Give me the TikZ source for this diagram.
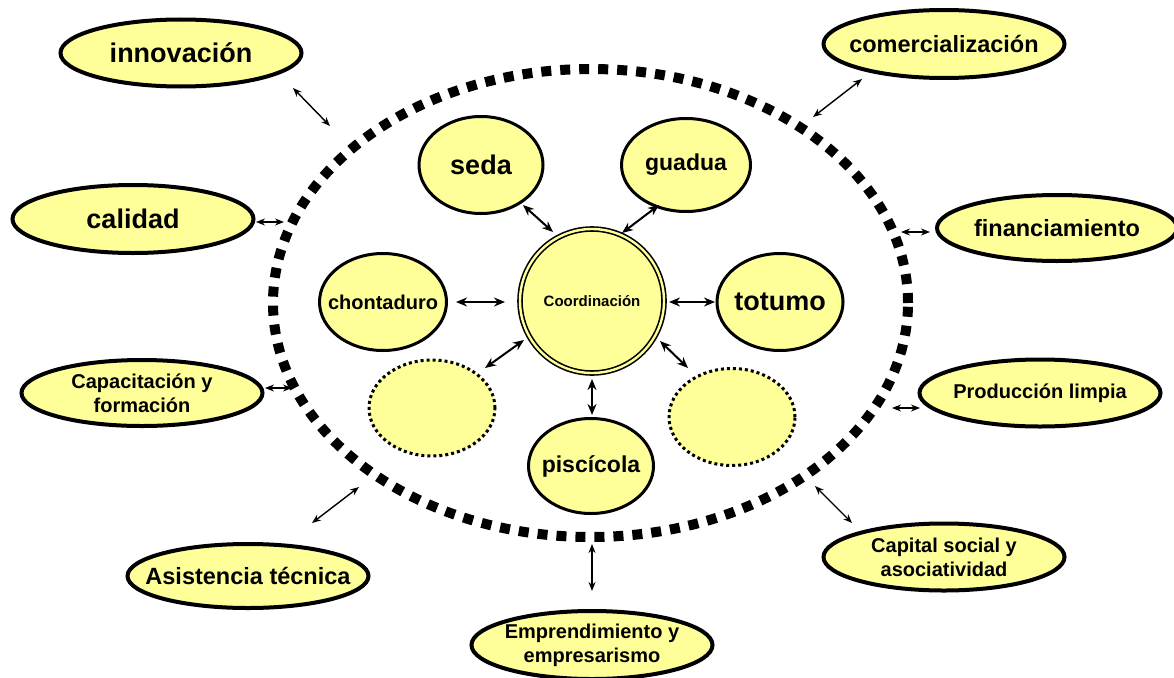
\documentclass[tikz,border=0pt]{standalone}
\usepackage{fontspec}
\setmainfont{Liberation Sans}
\usetikzlibrary{shapes.geometric,arrows.meta}
\definecolor{fillY}{HTML}{FFFF99}
\begin{document}
\begin{tikzpicture}[x=1pt,y=-1pt,
  outerbox/.style={ellipse,draw=black,line width=4pt,fill=fillY,inner sep=-30pt,
    minimum width=241pt,minimum height=67pt,align=center},
  innerbox/.style={ellipse,draw=black,line width=3pt,fill=fillY,inner sep=-30pt,align=center},
  dotbox/.style={ellipse,draw=black,line width=3pt,dash pattern=on 3pt off 3pt,fill=fillY,inner sep=0pt},
  fbig/.style={font=\fontsize{27}{30}\selectfont\bfseries},
  fmid/.style={font=\fontsize{23.5}{27}\selectfont\bfseries},
  fsmall/.style={font=\fontsize{20}{24}\selectfont\bfseries},
  thinarr/.style={line width=1.4pt,{Stealth[length=9pt,width=7pt]}-{Stealth[length=9pt,width=7pt]}},
  thickarr/.style={line width=2pt,{Stealth[length=11pt,width=9pt]}-{Stealth[length=11pt,width=9pt]}},
]
\useasboundingbox (0,0) rectangle (1174,677);

% dashed ring
\node[ellipse,draw=black,line width=10pt,dash pattern=on 10pt off 9pt,
  minimum width=635pt,minimum height=468pt,inner sep=0pt] (ring) at (590.5,303) {};

% outer nodes
\node[outerbox,fbig] (innov) at (181,53) {innovación};
\node[outerbox,fbig,minimum height=68pt] (calidad) at (133,219) {calidad};
\node[outerbox,fmid,minimum height=68pt] (comerc) at (944,44) {comercialización};
\node[outerbox,fmid,minimum width=240pt,minimum height=66pt] (financ) at (1057,228) {financiamiento};
\node[outerbox,fsmall] (prod) at (1040,393) {Producción limpia};
\node[outerbox,fsmall] (capital) at (944,557) {Capital social y\\asociatividad};
\node[outerbox,fsmall,minimum height=66pt] (capac) at (142,393) {Capacitación y\\formación};
\node[outerbox,fmid,minimum height=64pt] (asist) at (248,576) {Asistencia técnica};
\node[outerbox,fsmall,minimum height=68pt] (empr) at (592,645) {Emprendimiento y\\empresarismo};

% inner nodes
\node[innerbox,fbig,minimum width=124pt,minimum height=97pt] (seda) at (481,165) {seda};
\node[innerbox,font=\fontsize{23}{27}\selectfont\bfseries,minimum width=129pt,minimum height=93pt] (guadua) at (686,165) {guadua};
\node[innerbox,fsmall,minimum width=127pt,minimum height=97pt] (chont) at (383,302) {chontaduro};
\node[innerbox,fbig,minimum width=126pt,minimum height=97pt] (totumo) at (780,302) {totumo};
\node[dotbox,minimum width=126pt,minimum height=96pt] (dotL) at (432,408) {};
\node[dotbox,minimum width=126pt,minimum height=97pt] (dotR) at (732,417) {};
\node[innerbox,font=\fontsize{23}{27}\selectfont\bfseries,minimum width=125pt,minimum height=95pt] (pisc) at (591,466) {piscícola};
\node[circle,draw=black,line width=1.6pt,double=fillY,double distance=2.4pt,fill=fillY,
  minimum size=144pt,inner sep=0pt,font=\fontsize{15}{18}\selectfont\bfseries] (coord) at (592,301) {Coordinación};

% arrow end points
\coordinate (a1s) at (293,88);  \coordinate (a1e) at (330,126);
\coordinate (a2s) at (256,222); \coordinate (a2e) at (284,222);
\coordinate (a3s) at (265,388); \coordinate (a3e) at (292,388);
\coordinate (a4s) at (312,523); \coordinate (a4e) at (359,487);
\coordinate (a5s) at (592,544); \coordinate (a5e) at (592,591);
\coordinate (a6s) at (815,486); \coordinate (a6e) at (852,523);
\coordinate (a7s) at (892,408); \coordinate (a7e) at (920,408);
\coordinate (a8s) at (901,232); \coordinate (a8e) at (930,232);
\coordinate (a9s) at (862,79);  \coordinate (a9e) at (813,117);

\coordinate (b1s) at (523,205); \coordinate (b1e) at (553,232);
\coordinate (b2s) at (659,205); \coordinate (b2e) at (622,233);
\coordinate (b3s) at (456,302); \coordinate (b3e) at (505,302);
\coordinate (b4s) at (669,302); \coordinate (b4e) at (715,302);
\coordinate (b5s) at (485,368); \coordinate (b5e) at (524,340);
\coordinate (b6s) at (660,341); \coordinate (b6e) at (688,368);
\coordinate (b7s) at (592,379); \coordinate (b7e) at (592,415);

\foreach \i in {1,...,9} { \draw[thinarr] (a\i s) -- (a\i e); }
\foreach \i in {1,...,7} { \draw[thickarr] (b\i s) -- (b\i e); }
\end{tikzpicture}
\end{document}
